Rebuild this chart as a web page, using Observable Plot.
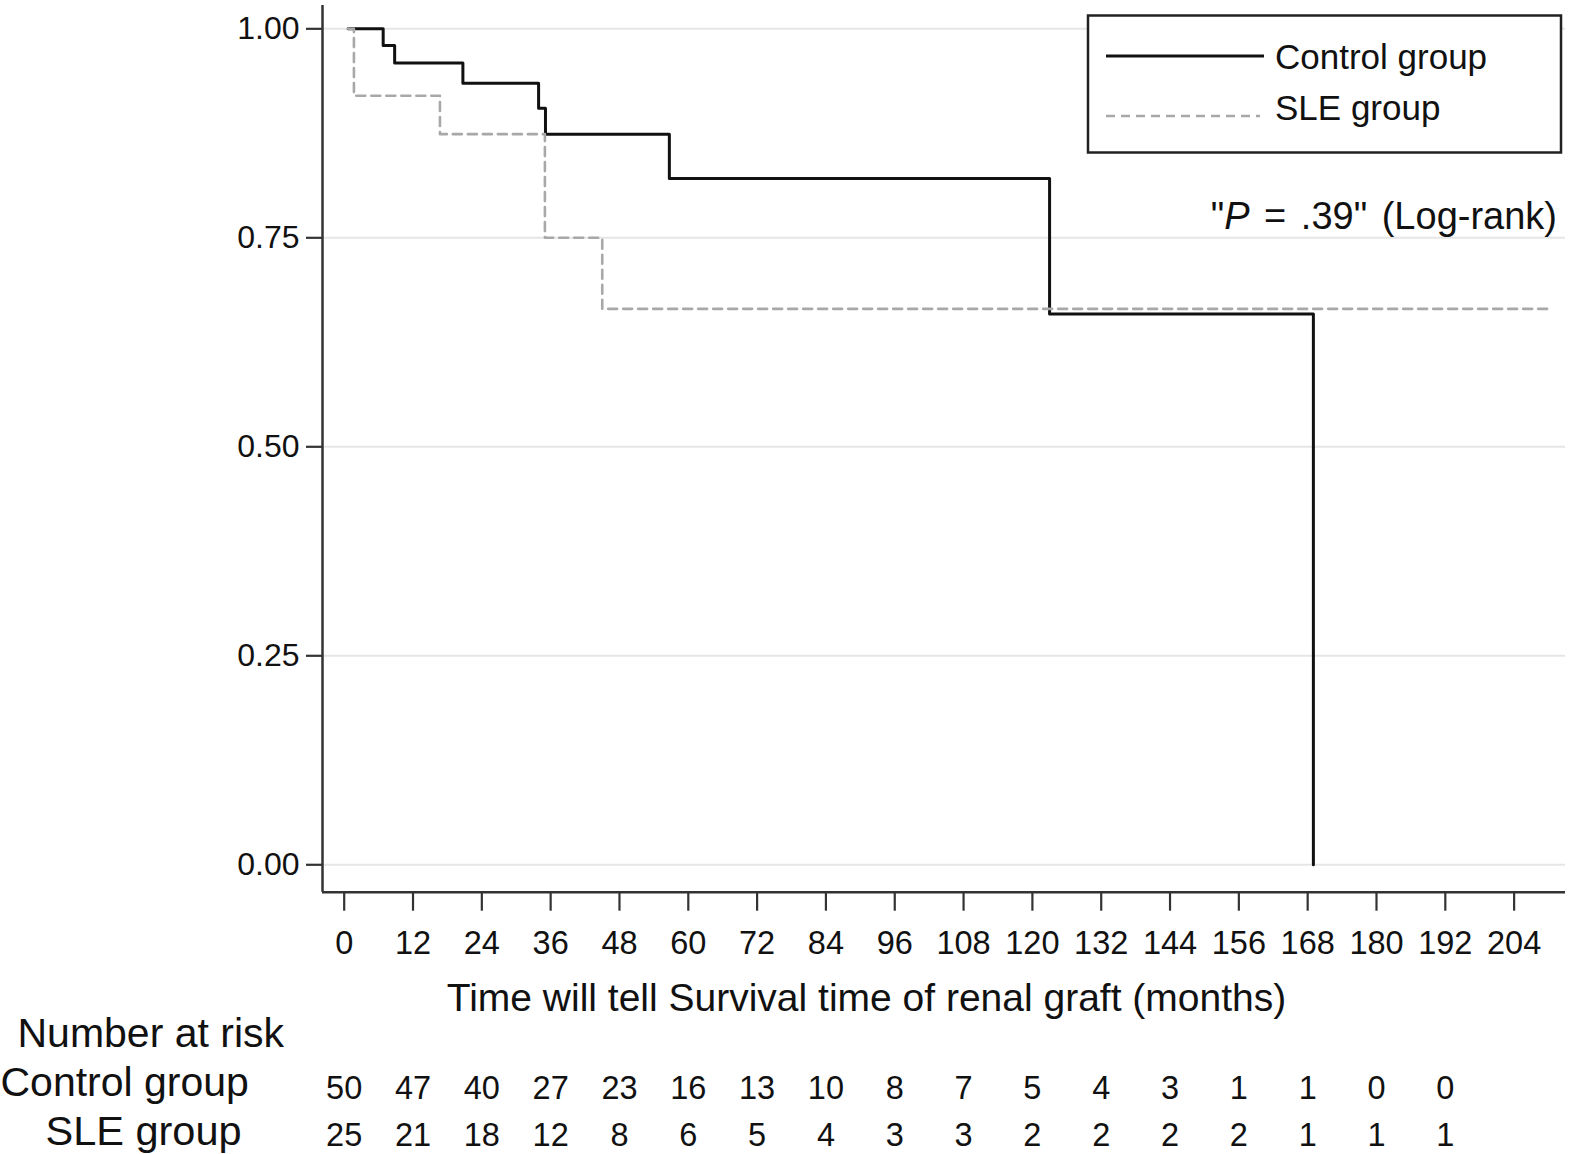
<!DOCTYPE html>
<html>
<head>
<meta charset="utf-8">
<script src="https://cdn.jsdelivr.net/npm/d3@7"></script>
<script src="https://cdn.jsdelivr.net/npm/@observablehq/plot@0.6"></script>
<style>
  html, body { margin: 0; padding: 0; background: #fff; }
  #wrap { position: relative; width: 1576px; height: 1154px; overflow: hidden; }
  #overlay { position: absolute; left: 0; top: 0; pointer-events: none; }
  text { font-family: "Liberation Sans", Arial, Helvetica, sans-serif; }
</style>
</head>
<body>
<div id="wrap"></div>
<script>
// ---- data ----
const controlTime = [0, 6.1, 8.1, 20.0, 33.2, 34.4, 56.0, 122.3, 168.3];
const controlSurv = [1.0, 0.98, 0.959, 0.935, 0.905, 0.874, 0.821, 0.659, 0.0];
const sleTime = [0, 1.0, 16.0, 34.3, 44.3, 209.3];
const sleSurv = [1.0, 0.92, 0.874, 0.75, 0.665, 0.665];

const xTicks = [0, 12, 24, 36, 48, 60, 72, 84, 96, 108, 120, 132, 144, 156, 168, 180, 192, 204];
const yTicks = [0, 0.25, 0.5, 0.75, 1.0];

const riskTimes = [0, 12, 24, 36, 48, 60, 72, 84, 96, 108, 120, 132, 144, 156, 168, 180, 192];
const controlRisk = [50, 47, 40, 27, 23, 16, 13, 10, 8, 7, 5, 4, 3, 1, 1, 0, 0];
const sleRisk = [25, 21, 18, 12, 8, 6, 5, 4, 3, 3, 2, 2, 2, 2, 1, 1, 1];

const seriesNames = ["Control group", "SLE group"];
const xLabel = "Time will tell Survival time of renal graft (months)";
const riskTitle = "Number at risk";
const pLabel = ["\"", "P", " = .39\" (Log-rank)"];

const xDomain = [-4.48, 212.26];
const yDomain = [-0.0328, 1.0279];

const controlData = controlTime.map((t, i) => ({t, s: controlSurv[i]}));
const sleData = sleTime.map((t, i) => ({t, s: sleSurv[i]}));
const controlRiskData = riskTimes.map((t, i) => ({t, n: controlRisk[i]}));
const sleRiskData = riskTimes.map((t, i) => ({t, n: sleRisk[i]}));

const FONT = "Liberation Sans, Arial, Helvetica, sans-serif";
const INK = "#111";

const chart = Plot.plot({
  width: 1576,
  height: 1154,
  marginLeft: 322,
  marginRight: 11,
  marginTop: 5,
  marginBottom: 262.3,
  x: {domain: xDomain, axis: null},
  y: {domain: yDomain, axis: null},
  style: {fontFamily: FONT, fontSize: "32px", color: INK, background: "#fff", overflow: "visible"},
  marks: [
    Plot.gridY(yTicks, {stroke: "#e6e6e6", strokeOpacity: 1, strokeWidth: 2}),
    Plot.ruleX([xDomain[0]], {stroke: "#333", strokeWidth: 2.5}),
    Plot.ruleY([yDomain[0]], {stroke: "#333", strokeWidth: 2.5}),
    Plot.axisX({ticks: xTicks, tickSize: 19, tickPadding: 20, fontSize: 32.5, strokeWidth: 2.2, stroke: "#333", fill: INK, dx: -4, label: null}),
    Plot.axisY({ticks: yTicks, tickFormat: d3.format(".2f"), tickSize: 16, tickPadding: 7, fontSize: 32, strokeWidth: 2.2, stroke: "#333", fill: INK, label: null}),
    Plot.line(controlData, {x: "t", y: "s", curve: "step-after", stroke: INK, strokeWidth: 3}),
    Plot.line(sleData, {x: "t", y: "s", curve: "step-after", stroke: "#a8a8a8", strokeWidth: 2.6, strokeDasharray: "9,6"}),
    Plot.text([xLabel], {text: d => d, frameAnchor: "bottom-left", dx: 544, dy: 106, textAnchor: "middle", lineAnchor: "middle", fontSize: 39, fill: INK}),
    Plot.text([riskTitle], {text: d => d, frameAnchor: "bottom-left", dx: -305, dy: 142, textAnchor: "start", lineAnchor: "middle", fontSize: 41, fill: INK}),
    Plot.text([seriesNames[0]], {text: d => d, frameAnchor: "bottom-left", dx: -322, dy: 191, textAnchor: "start", lineAnchor: "middle", fontSize: 41, fill: INK}),
    Plot.text([seriesNames[1]], {text: d => d, frameAnchor: "bottom-left", dx: -277, dy: 240, textAnchor: "start", lineAnchor: "middle", fontSize: 41.5, fill: INK}),
    Plot.text(controlRiskData, {x: "t", text: "n", frameAnchor: "bottom", dx: -4, dy: 196, lineAnchor: "middle", fontSize: 32.5, fill: INK}),
    Plot.text(sleRiskData, {x: "t", text: "n", frameAnchor: "bottom", dx: -4, dy: 243, lineAnchor: "middle", fontSize: 32.5, fill: INK})
  ]
});

const wrap = document.getElementById("wrap");
wrap.appendChild(chart);

// legend and P-value annotation, overlaid
const ns = "http://www.w3.org/2000/svg";
const ov = document.createElementNS(ns, "svg");
ov.setAttribute("id", "overlay");
ov.setAttribute("width", 1576);
ov.setAttribute("height", 260);
function el(tag, attrs, parent) {
  const e = document.createElementNS(ns, tag);
  for (const k in attrs) e.setAttribute(k, attrs[k]);
  (parent || ov).appendChild(e);
  return e;
}
el("rect", {x: 1088, y: 15.5, width: 473, height: 137, fill: "#fff", stroke: "#222", "stroke-width": 2.5});
el("line", {x1: 1106, x2: 1264, y1: 56, y2: 56, stroke: INK, "stroke-width": 3});
el("line", {x1: 1106, x2: 1260, y1: 116, y2: 116, stroke: "#a8a8a8", "stroke-width": 2.6, "stroke-dasharray": "9,6"});
const t1 = el("text", {x: 1275, y: 69, "font-size": 35, fill: INK});
t1.textContent = seriesNames[0];
const t2 = el("text", {x: 1275, y: 120, "font-size": 35, fill: INK});
t2.textContent = seriesNames[1];
const pt = el("text", {x: 1557, y: 229, "font-size": 38, fill: INK, "text-anchor": "end", "word-spacing": "4px"});
const s1 = el("tspan", {}, pt); s1.textContent = pLabel[0];
const s2 = el("tspan", {"font-style": "italic"}, pt); s2.textContent = pLabel[1];
const s3 = el("tspan", {}, pt); s3.textContent = pLabel[2];
wrap.appendChild(ov);
</script>
</body>
</html>
